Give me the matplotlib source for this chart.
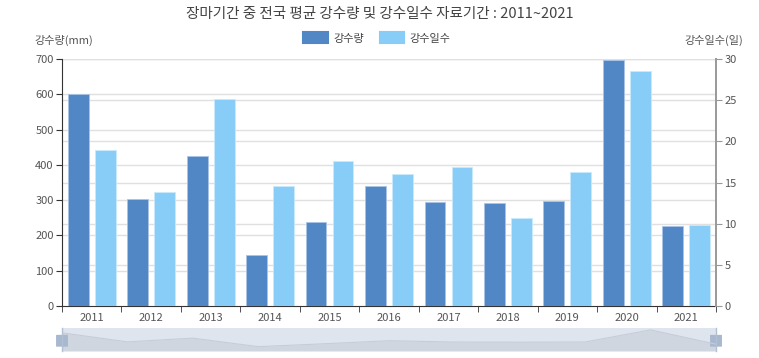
import matplotlib.pyplot as plt
import numpy as np
from matplotlib.patches import Patch, FancyBboxPatch

plt.rcParams['font.family'] = ['Noto Sans CJK KR', 'DejaVu Sans']

# ---- data -------------------------------------------------------------
years = ['2011', '2012', '2013', '2014', '2015', '2016',
         '2017', '2018', '2019', '2020', '2021']
rain_mm = [600, 302, 425, 144, 238, 340, 296, 291, 298, 697, 226]
rain_days = [19.0, 13.8, 25.1, 14.6, 17.6, 16.0, 16.9, 10.7, 16.3, 28.5, 9.8]

left_ticks = [0, 100, 200, 300, 400, 500, 600, 700]
right_ticks = [0, 5, 10, 15, 20, 25, 30]

DARK = '#5287c6'
LIGHT = '#88cdf8'
GRID = '#e0e0e0'
TXT = '#555555'

# ---- figure -----------------------------------------------------------
fig = plt.figure(figsize=(7.59, 3.58), dpi=100)
ax = fig.add_axes([62 / 759, 1 - 306 / 358, 654 / 759, 247 / 358])
ax2 = ax.twinx()

x = np.arange(len(years))
w = 0.35
off = 0.227

ax.bar(x - off, rain_mm, width=w, color=DARK, edgecolor='#a9c4e6',
       linewidth=0.6, zorder=3)
ax2.bar(x + off, rain_days, width=w, color=LIGHT, edgecolor='#c9e9fd',
        linewidth=0.6, zorder=3)

ax.set_xlim(-0.5, len(years) - 0.5)
ax.set_ylim(0, 700)
ax2.set_ylim(0, 30)

# grid lines for both value axes
for v in left_ticks[1:]:
    ax.axhline(v, color=GRID, lw=1.0, zorder=1)
for v in right_ticks[1:]:
    ax.axhline(v * 700 / 30, color=GRID, lw=1.0, zorder=1)

ax.set_yticks(left_ticks)
ax2.set_yticks(right_ticks)
ax.set_xticks(x)
ax.set_xticklabels(years)
ax.set_xticks(np.arange(-0.5, len(years)), minor=True)

for a in (ax, ax2):
    a.spines['top'].set_visible(False)
ax.spines['right'].set_visible(False)
ax2.spines['left'].set_visible(False)
ax2.spines['bottom'].set_visible(False)
ax.spines['left'].set_color('#333333')
ax.spines['bottom'].set_color('#333333')
ax2.spines['right'].set_color('#999999')
ax2.spines['right'].set_linewidth(1.4)

ax.tick_params(axis='x', which='major', length=0, labelsize=8,
               labelcolor=TXT, pad=5)
ax.tick_params(axis='x', which='minor', length=4, color='#333333')
ax.tick_params(axis='y', length=4, labelsize=8, labelcolor=TXT,
               color='#333333', pad=2)
ax2.tick_params(axis='y', length=4, labelsize=8, labelcolor=TXT,
                color='#999999', pad=2)

# axis names
fig.text(34 / 759, 1 - 40 / 358, '강수량(mm)', fontsize=8, color=TXT,
         ha='left', va='center')
fig.text(743 / 759, 1 - 40 / 358, '강수일수(일)', fontsize=8, color=TXT,
         ha='right', va='center')

# title
fig.text(380 / 759, 1 - 14 / 358,
         '장마기간 중 전국 평균 강수량 및 강수일수 자료기간 : 2011~2021',
         fontsize=10.5, color='#444444', ha='center', va='center')

# legend
handles = [Patch(facecolor=DARK, edgecolor=DARK, label='강수량',
                 joinstyle='round', linewidth=1.5),
           Patch(facecolor=LIGHT, edgecolor=LIGHT, label='강수일수',
                 joinstyle='round', linewidth=1.5)]
fig.legend(handles=handles, loc='center', ncol=2,
           bbox_to_anchor=(377 / 759, 1 - 38 / 358), frameon=False,
           fontsize=8, handlelength=2.2, handleheight=1.1,
           columnspacing=1.4, handletextpad=0.5, labelcolor='#444444')

# data zoom slider with shadow of first series
sl = fig.add_axes([62 / 759, 1 - 351 / 358, 654 / 759, 23 / 358])
sl.set_facecolor('#dfe5ee')
sl.fill_between(x, 0, rain_mm, color='#cfd6e0', lw=0)
sl.plot(x, rain_mm, color='#c5cdd9', lw=0.8)
sl.set_xlim(0, len(years) - 1)
sl.set_ylim(0, 760)
sl.set_xticks([])
sl.set_yticks([])
for s in sl.spines.values():
    s.set_visible(False)
for hx in (0, 1):
    sl.add_patch(FancyBboxPatch((hx - 0.006, 0.22), 0.012, 0.45,
                                boxstyle='round,pad=0.002',
                                transform=sl.transAxes, clip_on=False,
                                facecolor='#a8b8cf', edgecolor='#a8b8cf'))
    sl.plot([hx, hx], [0, 1], transform=sl.transAxes, color='#b3c0d2',
            lw=1, clip_on=False)

fig.savefig('out.png', dpi=100)
